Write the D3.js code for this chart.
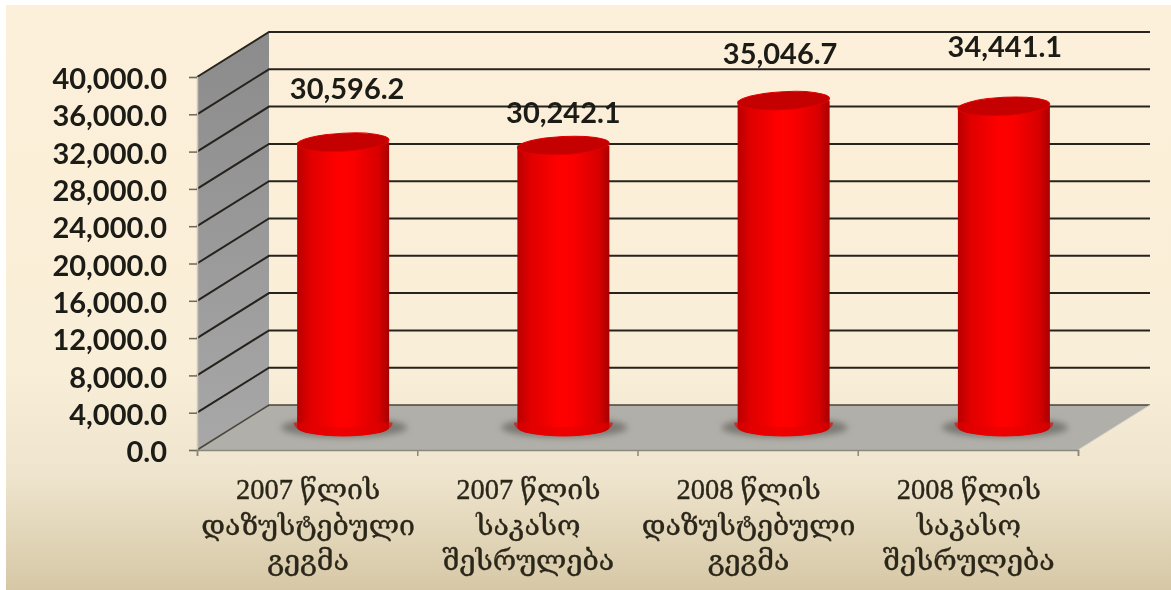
<!DOCTYPE html>
<html><head><meta charset="utf-8">
<script src="https://cdn.jsdelivr.net/npm/d3@7"></script>
<style>html,body{margin:0;padding:0;background:#fff}svg{display:block}</style>
</head><body><div id="c"></div>
<script>
const categories=[["2007 წლის","დაზუსტებული","გეგმა"],["2007 წლის","საკასო","შესრულება"],["2008 წლის","დაზუსტებული","გეგმა"],["2008 წლის","საკასო","შესრულება"]];
const values=[30596.2,30242.1,35046.7,34441.1];
const valueLabels=["30,596.2","30,242.1","35,046.7","34,441.1"];
const labelOffsets=[[4,-43],[0,-22],[-3.5,-37],[1,-49]];
const tickValues=[0,4000,8000,12000,16000,20000,24000,28000,32000,36000,40000];

const W=1171,H=590;
const svg=d3.select("#c").append("svg").attr("width",W).attr("height",H);
const defs=svg.append("defs");
function grad(id,stops,x2,y2){const g=defs.append("linearGradient").attr("id",id).attr("x1",0).attr("y1",0).attr("x2",x2).attr("y2",y2);
 stops.forEach(s=>g.append("stop").attr("offset",s[0]).attr("stop-color",s[1]));}
grad("bg",[[0,"#fdf0da"],[.62,"#f9eed7"],[.8,"#efe5ce"],[1,"#d6c8a6"]],0,1);
grad("cyl",[[0,"#b80000"],[.14,"#e00000"],[.45,"#ff0000"],[.6,"#fb0000"],[.88,"#d80000"],[1,"#a80000"]],1,0);
grad("wall",[[0,"#8b8b8b"],[1,"#a8a8a8"]],0,1);
defs.append("filter").attr("id","soft").append("feGaussianBlur").attr("stdDeviation",.55);
const sh=defs.append("filter").attr("id","shadow").attr("x","-30%").attr("y","-50%").attr("width","160%").attr("height","200%");
sh.append("feGaussianBlur").attr("stdDeviation",3);

svg.append("rect").attr("x",6).attr("y",5).attr("width",W-6).attr("height",H-5).attr("fill","url(#bg)");

const dx=72,dy=-45;
const x=d3.scaleBand().domain(d3.range(values.length)).range([197,1078]).paddingInner(0).paddingOuter(0);
const y=d3.scaleLinear().domain([0,40000]).range([450,77]);
const barW=92,ry=9;

// walls
const y0=y(0),yT=y(40000),xL=x.range()[0],xR=x.range()[1];
svg.append("polygon").attr("points",[[xL,yT],[xL+dx,yT+dy],[xL+dx,y0+dy],[xL,y0]].join(" ")).attr("fill","url(#wall)");
svg.append("polygon").attr("points",[[xL,y0],[xL+dx,y0+dy],[xR+dx,y0+dy],[xR,y0]].join(" ")).attr("fill","#b1afa9");

// gridlines
const gg=svg.append("g").attr("fill","none");
tickValues.forEach(t=>{
 gg.append("path").attr("d",d3.line()([[xL,y(t)],[xL+dx,y(t)+dy],[xR+dx,y(t)+dy]]))
  .attr("stroke",t===0?"#4a463c":"#26221c").attr("stroke-width",t===0?1.6:2);
});
gg.append("path").attr("d",d3.line()([[xR,y0],[xR+dx,y0+dy]])).attr("stroke","#dcd6c6").attr("stroke-width",1);

// axes
const axL=d3.axisLeft(y).tickValues(tickValues).tickSize(8).tickFormat(d3.format(",.1f"));
const gL=svg.append("g").attr("transform",`translate(${xL},0)`).call(axL);
gL.select(".domain").attr("stroke","#cfc8b6").attr("stroke-width",1.5);
gL.selectAll(".tick line").attr("stroke","#6b675c").attr("stroke-width",1.5);
gL.selectAll("text").attr("x",-30).attr("dy","0.4em").attr("font-family","Lato").attr("font-weight",700).attr("font-size",29).attr("fill","#1c1a16").attr("filter","url(#soft)");
const xb=d3.scaleLinear().domain([0,values.length]).range([xL,xR]);
const axB=d3.axisBottom(xb).tickValues(d3.range(values.length+1)).tickSize(6).tickFormat("");
const gB=svg.append("g").attr("transform",`translate(0,${y0})`).call(axB);
gB.select(".domain").attr("stroke","#8a877d").attr("stroke-width",1.5);
gB.selectAll(".tick line").attr("stroke","#8a877d").attr("stroke-width",1.5);

// bars
const yMid=v=>y(v)+dy/2;
const bars=svg.selectAll(".bar").data(values).join("g").attr("class","bar");
const cx=(d,i)=>x(i)+x.bandwidth()/2+dx/2;
bars.append("ellipse").attr("cx",(d,i)=>cx(d,i)+1).attr("cy",yMid(0)).attr("rx",63).attr("ry",10).attr("fill","#7a7872").attr("filter","url(#shadow)");
bars.append("path").attr("fill","url(#cyl)").attr("d",(d,i)=>{
 const c=cx(d,i),r=barW/2,t=yMid(d),b=yMid(0);
 return `M${c-r},${t}L${c-r},${b}A${r},${ry} 0 0 0 ${c+r},${b}L${c+r},${t}Z`;
});
bars.append("path").attr("fill","none").attr("stroke","#e20000").attr("stroke-width",9).attr("opacity",.6).attr("d",(d,i)=>{
 const c=cx(d,i),r=barW/2-1,b=yMid(0)-5;
 return `M${c-r},${b}A${r},${ry} 0 0 0 ${c+r},${b}`;
});
bars.append("ellipse").attr("cx",cx).attr("cy",d=>yMid(d)).attr("rx",barW/2).attr("ry",ry)
 .attr("transform",(d,i)=>`rotate(-3 ${cx(d,i)} ${yMid(d)})`).attr("fill","#c40000").attr("stroke","#e00000").attr("stroke-width",1);

// value labels
bars.append("text").text((d,i)=>valueLabels[i]).attr("text-anchor","middle")
 .attr("x",(d,i)=>cx(d,i)+labelOffsets[i][0]).attr("y",(d,i)=>yMid(d)+labelOffsets[i][1])
 .attr("font-family","Lato").attr("font-weight",700).attr("font-size",29).attr("fill","#1c1a16").attr("filter","url(#soft)");

// category labels
const cat=svg.selectAll(".cat").data(categories).join("text").attr("class","cat")
 .attr("text-anchor","middle").attr("font-family","'Liberation Serif','DejaVu Serif',serif").attr("font-size",28.5)
 .attr("fill","#2b261a").attr("stroke","#2b261a").attr("stroke-width",.35).attr("filter","url(#soft)");
cat.each(function(lines,i){
 d3.select(this).selectAll("tspan").data(lines).join("tspan")
  .attr("x",x(i)+x.bandwidth()/2+1).attr("y",(l,j)=>499+j*35.5).text(l=>l);
});
</script></body></html>
